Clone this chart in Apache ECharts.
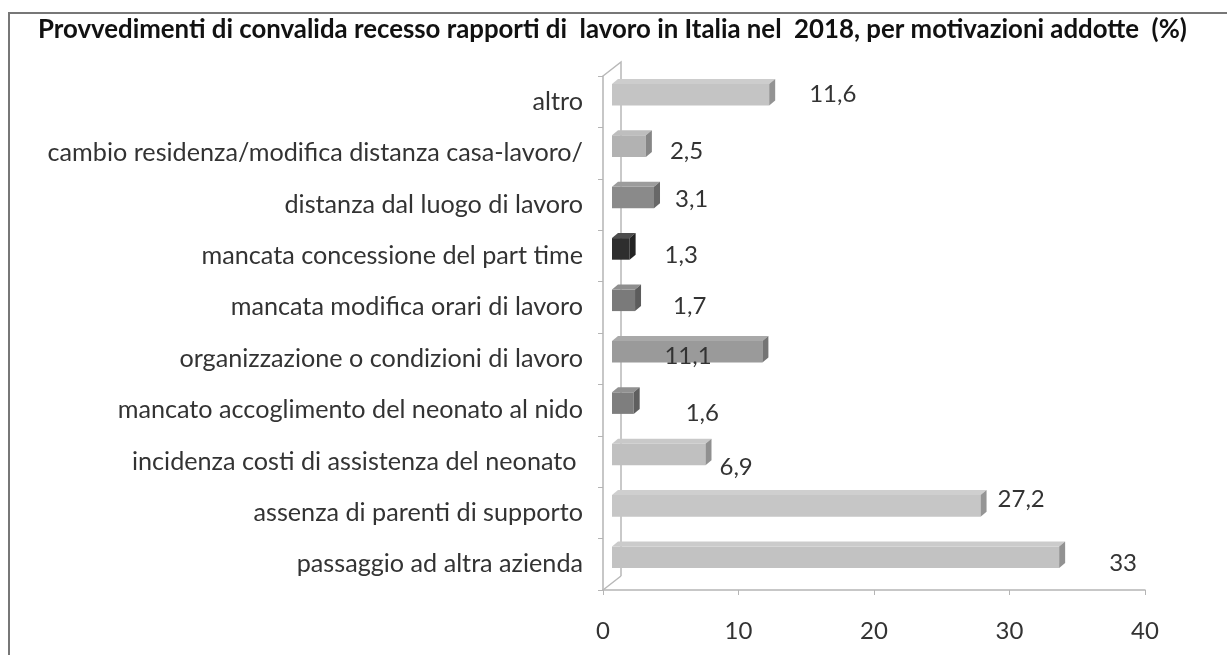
<!DOCTYPE html>
<html>
<head>
<meta charset="utf-8">
<script src="https://cdn.jsdelivr.net/npm/echarts@6/dist/echarts.min.js"></script>
<style>
html,body{margin:0;padding:0;background:#fff;}
#chart{position:absolute;left:0;top:0;width:1227px;height:655px;}
#frame{position:absolute;left:8px;top:12px;width:1240px;height:700px;border-left:2px solid #777;border-top:2px solid #777;pointer-events:none;}
</style>
</head>
<body>
<div id="chart"></div>
<div id="frame"></div>
<script>
// ---- data ----
const title = 'Provvedimenti di convalida recesso rapporti di  lavoro in Italia nel  2018, per motivazioni addotte  (%)';
const categories = [
  'altro',
  'cambio residenza/modifica distanza casa-lavoro/',
  'distanza dal luogo di lavoro',
  'mancata concessione del part time',
  'mancata modifica orari di lavoro',
  'organizzazione o condizioni di lavoro',
  'mancato accoglimento del neonato al nido',
  'incidenza costi di assistenza del neonato ',
  'assenza di parenti di supporto',
  'passaggio ad altra azienda'
];
const values = [11.6, 2.5, 3.1, 1.3, 1.7, 11.1, 1.6, 6.9, 27.2, 33];
const valueLabels = ['11,6', '2,5', '3,1', '1,3', '1,7', '11,1', '1,6', '6,9', '27,2', '33'];
const xTicks = [0, 10, 20, 30, 40];

// ---- styling (not data) ----
const barColors = ['#c4c4c4', '#b2b2b2', '#8a8a8a', '#2e2e2e', '#7a7a7a', '#9a9a9a', '#7e7e7e', '#c0c0c0', '#c6c6c6', '#c2c2c2'];
const labelGap = [34, 18, 15, 29, 32, -104, 46, 8, 11, 44];
const labelDy = [0, 5, 2, 6, 6, 5, 10, 13, -7, 6];
const FONT = 'Lato, "Liberation Sans", sans-serif';

function shade(hex, f) {
  const n = parseInt(hex.slice(1), 16);
  let r = (n >> 16) & 255, g = (n >> 8) & 255, b = n & 255;
  const c = v => Math.max(0, Math.min(255, Math.round(f >= 0 ? v + (255 - v) * f : v * (1 + f))));
  return 'rgb(' + c(r) + ',' + c(g) + ',' + c(b) + ')';
}

const chart = echarts.init(document.getElementById('chart'), null, {renderer: 'canvas'});
const barData = values.map((v, i) => [v, i]);

chart.setOption({
  backgroundColor: '#fff',
  animation: false,
  title: {
    text: title,
    left: 33, top: 12,
    textStyle: {fontFamily: FONT, fontSize: 25.8, fontWeight: 'bold', color: '#111'}
  },
  grid: {left: 603, right: 82, top: 76, bottom: 65, containLabel: false},
  xAxis: {
    type: 'value', min: xTicks[0], max: xTicks[xTicks.length - 1], interval: 10,
    axisLine: {show: true, lineStyle: {color: '#b5b5b5', width: 1.5}},
    axisTick: {show: true, length: 5, lineStyle: {color: '#b5b5b5'}},
    splitLine: {show: false},
    axisLabel: {margin: 29, fontFamily: FONT, fontSize: 24, color: '#333'}
  },
  yAxis: {
    type: 'category', data: categories, inverse: true,
    axisLine: {show: true, lineStyle: {color: '#b5b5b5', width: 1.5}},
    axisTick: {show: true, length: 5, lineStyle: {color: '#b5b5b5'}},
    axisLabel: {margin: 20, fontFamily: FONT, fontSize: 25.2, color: '#333'}
  },
  series: [
    {
      type: 'custom', silent: true, z: 1,
      data: [[0, 0]],
      renderItem: function (params, api) {
        const cs = params.coordSys;
        const x = cs.x, y = cs.y, h = cs.height;
        const dx = 18, dy = -14;
        const st = {stroke: '#b8b8b8', lineWidth: 1.5, fill: null};
        return {type: 'group', children: [
          {type: 'polyline', shape: {points: [[x + dx, y + h + dy], [x + dx, y + dy], [x, y]]}, style: st},
          {type: 'line', shape: {x1: x, y1: y + h, x2: x + dx, y2: y + h + dy}, style: st}
        ]};
      }
    },
    {
      type: 'custom', z: 2,
      encode: {x: 0, y: 1},
      data: barData,
      renderItem: function (params, api) {
        const i = params.dataIndex;
        const val = api.value(0), cat = api.value(1);
        const p0 = api.coord([0, cat]);
        const p1 = api.coord([val, cat]);
        const band = api.size([0, 1])[1];
        const hh = band * 0.42;
        const ox = 9, oy = -7, dx = 6, dy = -5;
        const x0 = p0[0] + ox, x1 = p1[0] + ox, yc = p0[1] + oy;
        const yt = yc - hh / 2, yb = yc + hh / 2;
        const col = barColors[i];
        return {type: 'group', children: [
          {type: 'rect', shape: {x: x0, y: yt, width: x1 - x0, height: hh}, style: {fill: col}},
          {type: 'polygon', shape: {points: [[x0, yt], [x1, yt], [x1 + dx, yt + dy], [x0 + dx, yt + dy]]}, style: {fill: shade(col, 0.15)}},
          {type: 'polygon', shape: {points: [[x1, yt], [x1 + dx, yt + dy], [x1 + dx, yb + dy], [x1, yb]]}, style: {fill: shade(col, -0.25)}},
          {type: 'text', style: {
            text: valueLabels[i], x: x1 + dx + labelGap[i], y: yc + labelDy[i],
            verticalAlign: 'middle', align: 'left',
            fontFamily: FONT, fontSize: 24, fill: '#333'
          }}
        ]};
      }
    }
  ]
});
</script>
</body>
</html>
